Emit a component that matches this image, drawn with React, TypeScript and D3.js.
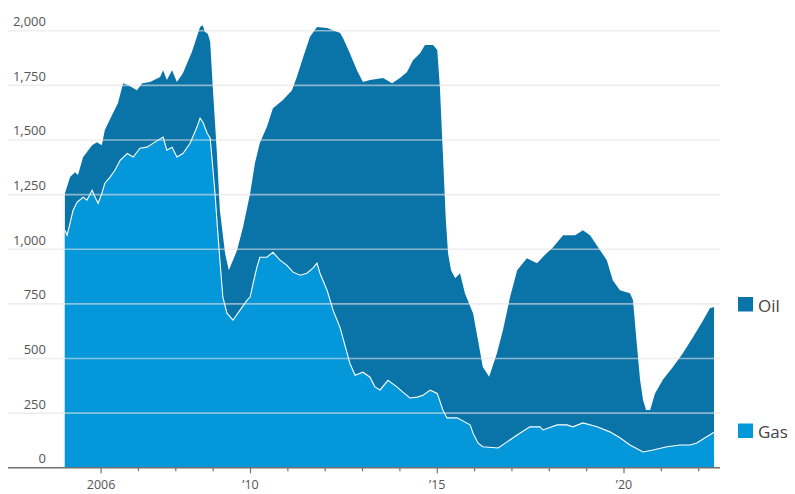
import React from 'react';
import * as d3 from 'd3';

// Total rig count (oil stacked on gas): [decimal year, rigs]
const totalRigs: [number, number][] = [
  [2005.03, 1255], [2005.17, 1330], [2005.30, 1352], [2005.38, 1340], [2005.52, 1422],
  [2005.76, 1476], [2005.89, 1490], [2006.02, 1476], [2006.10, 1545], [2006.29, 1613],
  [2006.45, 1668], [2006.59, 1760], [2006.72, 1751], [2006.96, 1728], [2007.10, 1760],
  [2007.31, 1765], [2007.58, 1788], [2007.66, 1819], [2007.76, 1774], [2007.90, 1819],
  [2008.03, 1765], [2008.19, 1805], [2008.43, 1903], [2008.65, 2017], [2008.72, 2025],
  [2008.78, 1995], [2008.86, 1985], [2008.92, 1950], [2008.99, 1742], [2009.10, 1440],
  [2009.18, 1178], [2009.32, 980], [2009.42, 904], [2009.64, 995], [2009.80, 1100],
  [2009.99, 1255], [2010.12, 1394], [2010.25, 1486], [2010.44, 1560], [2010.60, 1645],
  [2010.87, 1683], [2011.11, 1728], [2011.24, 1788], [2011.41, 1879], [2011.59, 1971],
  [2011.78, 2017], [2012.05, 2012], [2012.40, 1990], [2012.48, 1966], [2012.66, 1897],
  [2012.85, 1819], [2013.01, 1765], [2013.20, 1774], [2013.55, 1783], [2013.79, 1760],
  [2014.00, 1783], [2014.19, 1811], [2014.35, 1865], [2014.54, 1897], [2014.67, 1934],
  [2014.89, 1934], [2015.00, 1912], [2015.07, 1742], [2015.15, 1440], [2015.23, 1133],
  [2015.29, 980], [2015.37, 904], [2015.48, 867], [2015.61, 890], [2015.74, 798],
  [2015.96, 706], [2016.09, 584], [2016.22, 461], [2016.39, 416], [2016.60, 525],
  [2016.76, 630], [2016.95, 781], [2017.14, 904], [2017.40, 959], [2017.67, 936],
  [2017.88, 973], [2018.10, 1009], [2018.37, 1064], [2018.69, 1064], [2018.90, 1087],
  [2019.09, 1064], [2019.36, 995], [2019.54, 950], [2019.70, 858], [2019.89, 812],
  [2020.16, 798], [2020.24, 767], [2020.35, 552], [2020.43, 402], [2020.51, 310],
  [2020.59, 264], [2020.70, 264], [2020.83, 340], [2021.04, 402], [2021.31, 461],
  [2021.58, 525], [2021.85, 598], [2022.12, 675], [2022.30, 730], [2022.41, 735],
];

// Gas rig count: [decimal year, rigs]
const gasRigs: [number, number][] = [
  [2005.03, 1087], [2005.09, 1064], [2005.17, 1120], [2005.25, 1178], [2005.36, 1216],
  [2005.52, 1238], [2005.62, 1224], [2005.76, 1270], [2005.84, 1238], [2005.92, 1210],
  [2006.02, 1255], [2006.10, 1302], [2006.24, 1330], [2006.37, 1361], [2006.51, 1407],
  [2006.70, 1438], [2006.86, 1422], [2007.04, 1462], [2007.23, 1467], [2007.44, 1490],
  [2007.66, 1513], [2007.76, 1453], [2007.90, 1467], [2008.03, 1422], [2008.19, 1438],
  [2008.38, 1484], [2008.57, 1560], [2008.65, 1600], [2008.73, 1580], [2008.84, 1531],
  [2008.92, 1508], [2008.99, 1375], [2009.05, 1255], [2009.10, 1133], [2009.18, 950],
  [2009.26, 781], [2009.37, 707], [2009.53, 675], [2009.72, 721], [2009.91, 767],
  [2009.99, 781], [2010.07, 844], [2010.17, 917], [2010.25, 963], [2010.44, 963],
  [2010.60, 986], [2010.79, 950], [2010.97, 927], [2011.14, 895], [2011.33, 881],
  [2011.51, 890], [2011.67, 913], [2011.78, 936], [2011.86, 890], [2012.05, 812],
  [2012.21, 721], [2012.40, 640], [2012.66, 478], [2012.80, 423], [2013.01, 437],
  [2013.20, 414], [2013.33, 370], [2013.47, 356], [2013.68, 400], [2013.92, 370],
  [2014.08, 346], [2014.27, 319], [2014.46, 323], [2014.62, 332], [2014.81, 355],
  [2015.00, 340], [2015.15, 264], [2015.26, 228], [2015.53, 228], [2015.88, 196],
  [2015.96, 157], [2016.09, 113], [2016.22, 96], [2016.63, 90], [2016.87, 118],
  [2017.14, 150], [2017.48, 187], [2017.75, 187], [2017.83, 173], [2018.21, 196],
  [2018.47, 196], [2018.63, 187], [2018.90, 205], [2019.28, 187], [2019.62, 164],
  [2019.89, 137], [2020.16, 104], [2020.51, 72], [2020.78, 81], [2021.15, 96],
  [2021.50, 104], [2021.77, 104], [2021.95, 113], [2022.17, 137], [2022.38, 159],
  [2022.41, 162],
];

const yTicks = [0, 250, 500, 750, 1000, 1250, 1500, 1750, 2000];
const xTickYears = d3.range(2006, 2023);
const xLabels: [number, string][] = [[2006, '2006'], [2010, '\u201910'], [2015, '\u201915'], [2020, '\u201920']];
const legendItems = [
  { label: 'Oil', color: '#0a74a8' },
  { label: 'Gas', color: '#0497d9' },
];

export default function App() {
  const W = 795;
  const H = 494;
  const x = d3.scaleLinear().domain([2006, 2020]).range([101.1, 624]);
  const y = d3.scaleLinear().domain([0, 2000]).range([467.7, 30.7]);
  const left = 8;
  const right = 720;

  const area = d3
    .area<[number, number]>()
    .x((d) => x(d[0]))
    .y0(y(0))
    .y1((d) => y(d[1]));
  const line = d3
    .line<[number, number]>()
    .x((d) => x(d[0]))
    .y((d) => y(d[1]));

  const font = "'Open Sans', 'Noto Sans', sans-serif";
  const fmt = d3.format(',');

  return (
    <svg
      width={W}
      height={H}
      style={{ position: 'absolute', left: 0, top: 0, background: '#fff' }}
      fontFamily={font}
    >
      <path d={area(totalRigs) || ''} fill={legendItems[0].color} />
      <path d={area(gasRigs) || ''} fill={legendItems[1].color} />
      <path d={line(gasRigs) || ''} fill="none" stroke="#fff" strokeWidth={1.1} />

      {yTicks.filter((t) => t > 0).map((t) => (
        <line
          key={'g' + t}
          x1={left}
          x2={right}
          y1={y(t)}
          y2={y(t)}
          stroke="#e2e2e2"
          strokeOpacity={0.6}
          strokeWidth={1.6}
        />
      ))}
      {yTicks.map((t) => (
        <text
          key={'yl' + t}
          x={46}
          y={y(t) - 4.5}
          textAnchor="end"
          fontSize={13}
          fill="#555"
        >
          {fmt(t)}
        </text>
      ))}

      <line x1={left} x2={right} y1={y(0)} y2={y(0)} stroke="#707070" strokeWidth={1.5} />
      {xTickYears.map((yr) => {
        const major = xLabels.some((l) => l[0] === yr);
        return (
          <line
            key={'t' + yr}
            x1={x(yr)}
            x2={x(yr)}
            y1={y(0)}
            y2={y(0) + (major ? 5.5 : 3.5)}
            stroke="#707070"
            strokeWidth={1.2}
          />
        );
      })}
      {xLabels.map(([yr, label]) => (
        <text key={'xl' + yr} x={x(yr)} y={489} textAnchor="middle" fontSize={12.5} fill="#555">
          {label}
        </text>
      ))}

      {legendItems.map((item, i) => {
        const top = i === 0 ? 297 : 423.5;
        return (
          <g key={item.label}>
            <rect x={738} y={top} width={15} height={14.5} fill={item.color} />
            <text x={758} y={top + 14.5} fontSize={17} fill="#444">
              {item.label}
            </text>
          </g>
        );
      })}
    </svg>
  );
}
